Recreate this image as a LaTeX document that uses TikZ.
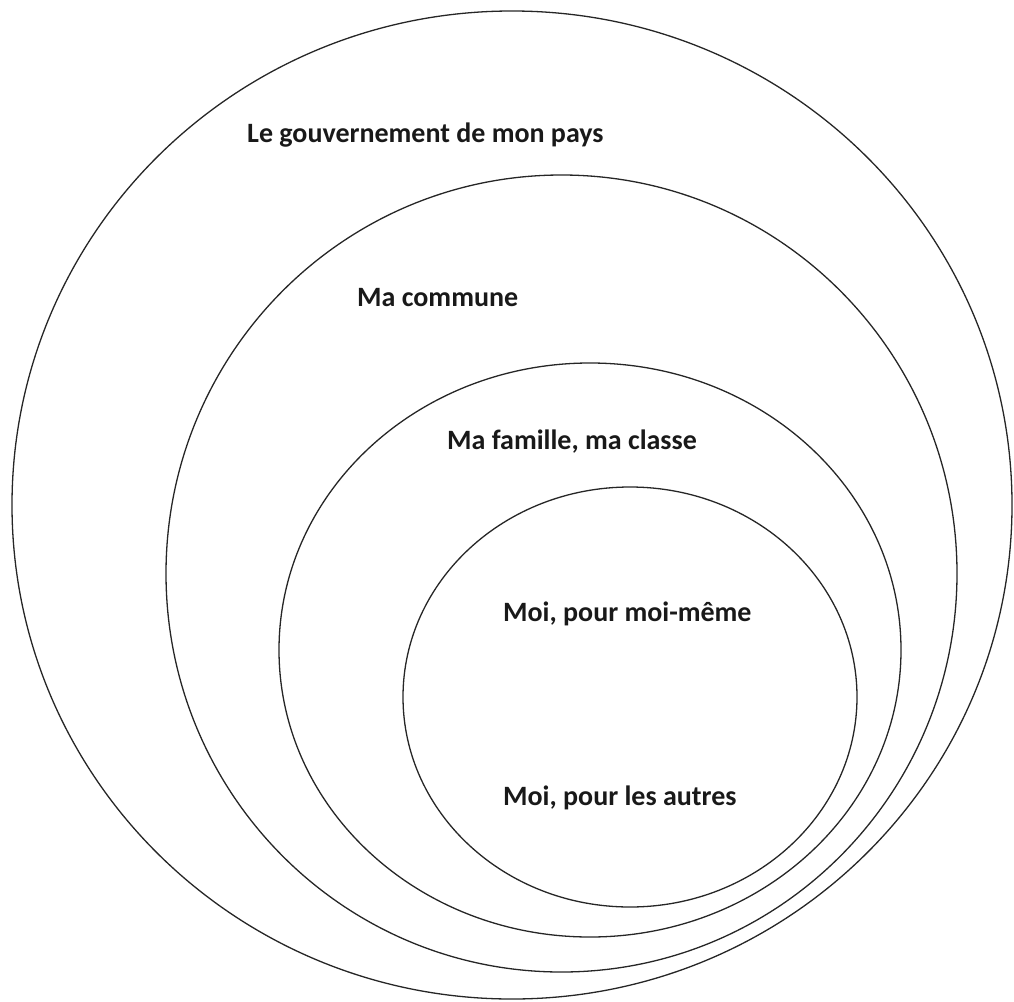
\documentclass[tikz,border=0pt]{standalone}
\usepackage{fontspec}
\setmainfont{Carlito}
\begin{document}
\begin{tikzpicture}[x=1pt,y=-1pt,
  ring/.style={draw=black!85,line width=1.3pt},
  lbl/.style={anchor=base west,inner sep=0pt,font=\fontsize{28}{30}\selectfont\bfseries,text=black!90}]
\useasboundingbox (0,0) rectangle (1014,1001);
\draw[ring] (512,505) ellipse [x radius=500, y radius=494];
\draw[ring] (561.5,573.5) ellipse [x radius=395.5, y radius=398.5];
\draw[ring] (590,650) ellipse [x radius=311, y radius=287];
\draw[ring] (630,697) ellipse [x radius=227, y radius=210];
\node[lbl] (gouv) at (247,142) {Le gouvernement de mon pays};
\node[lbl] (commune) at (357,306) {Ma commune};
\node[lbl] (famille) at (447,449) {Ma famille, ma classe};
\node[lbl] (moi1) at (503,621) {Moi, pour moi-même};
\node[lbl] (moi2) at (503,805) {Moi, pour les autres};
\end{tikzpicture}
\end{document}
